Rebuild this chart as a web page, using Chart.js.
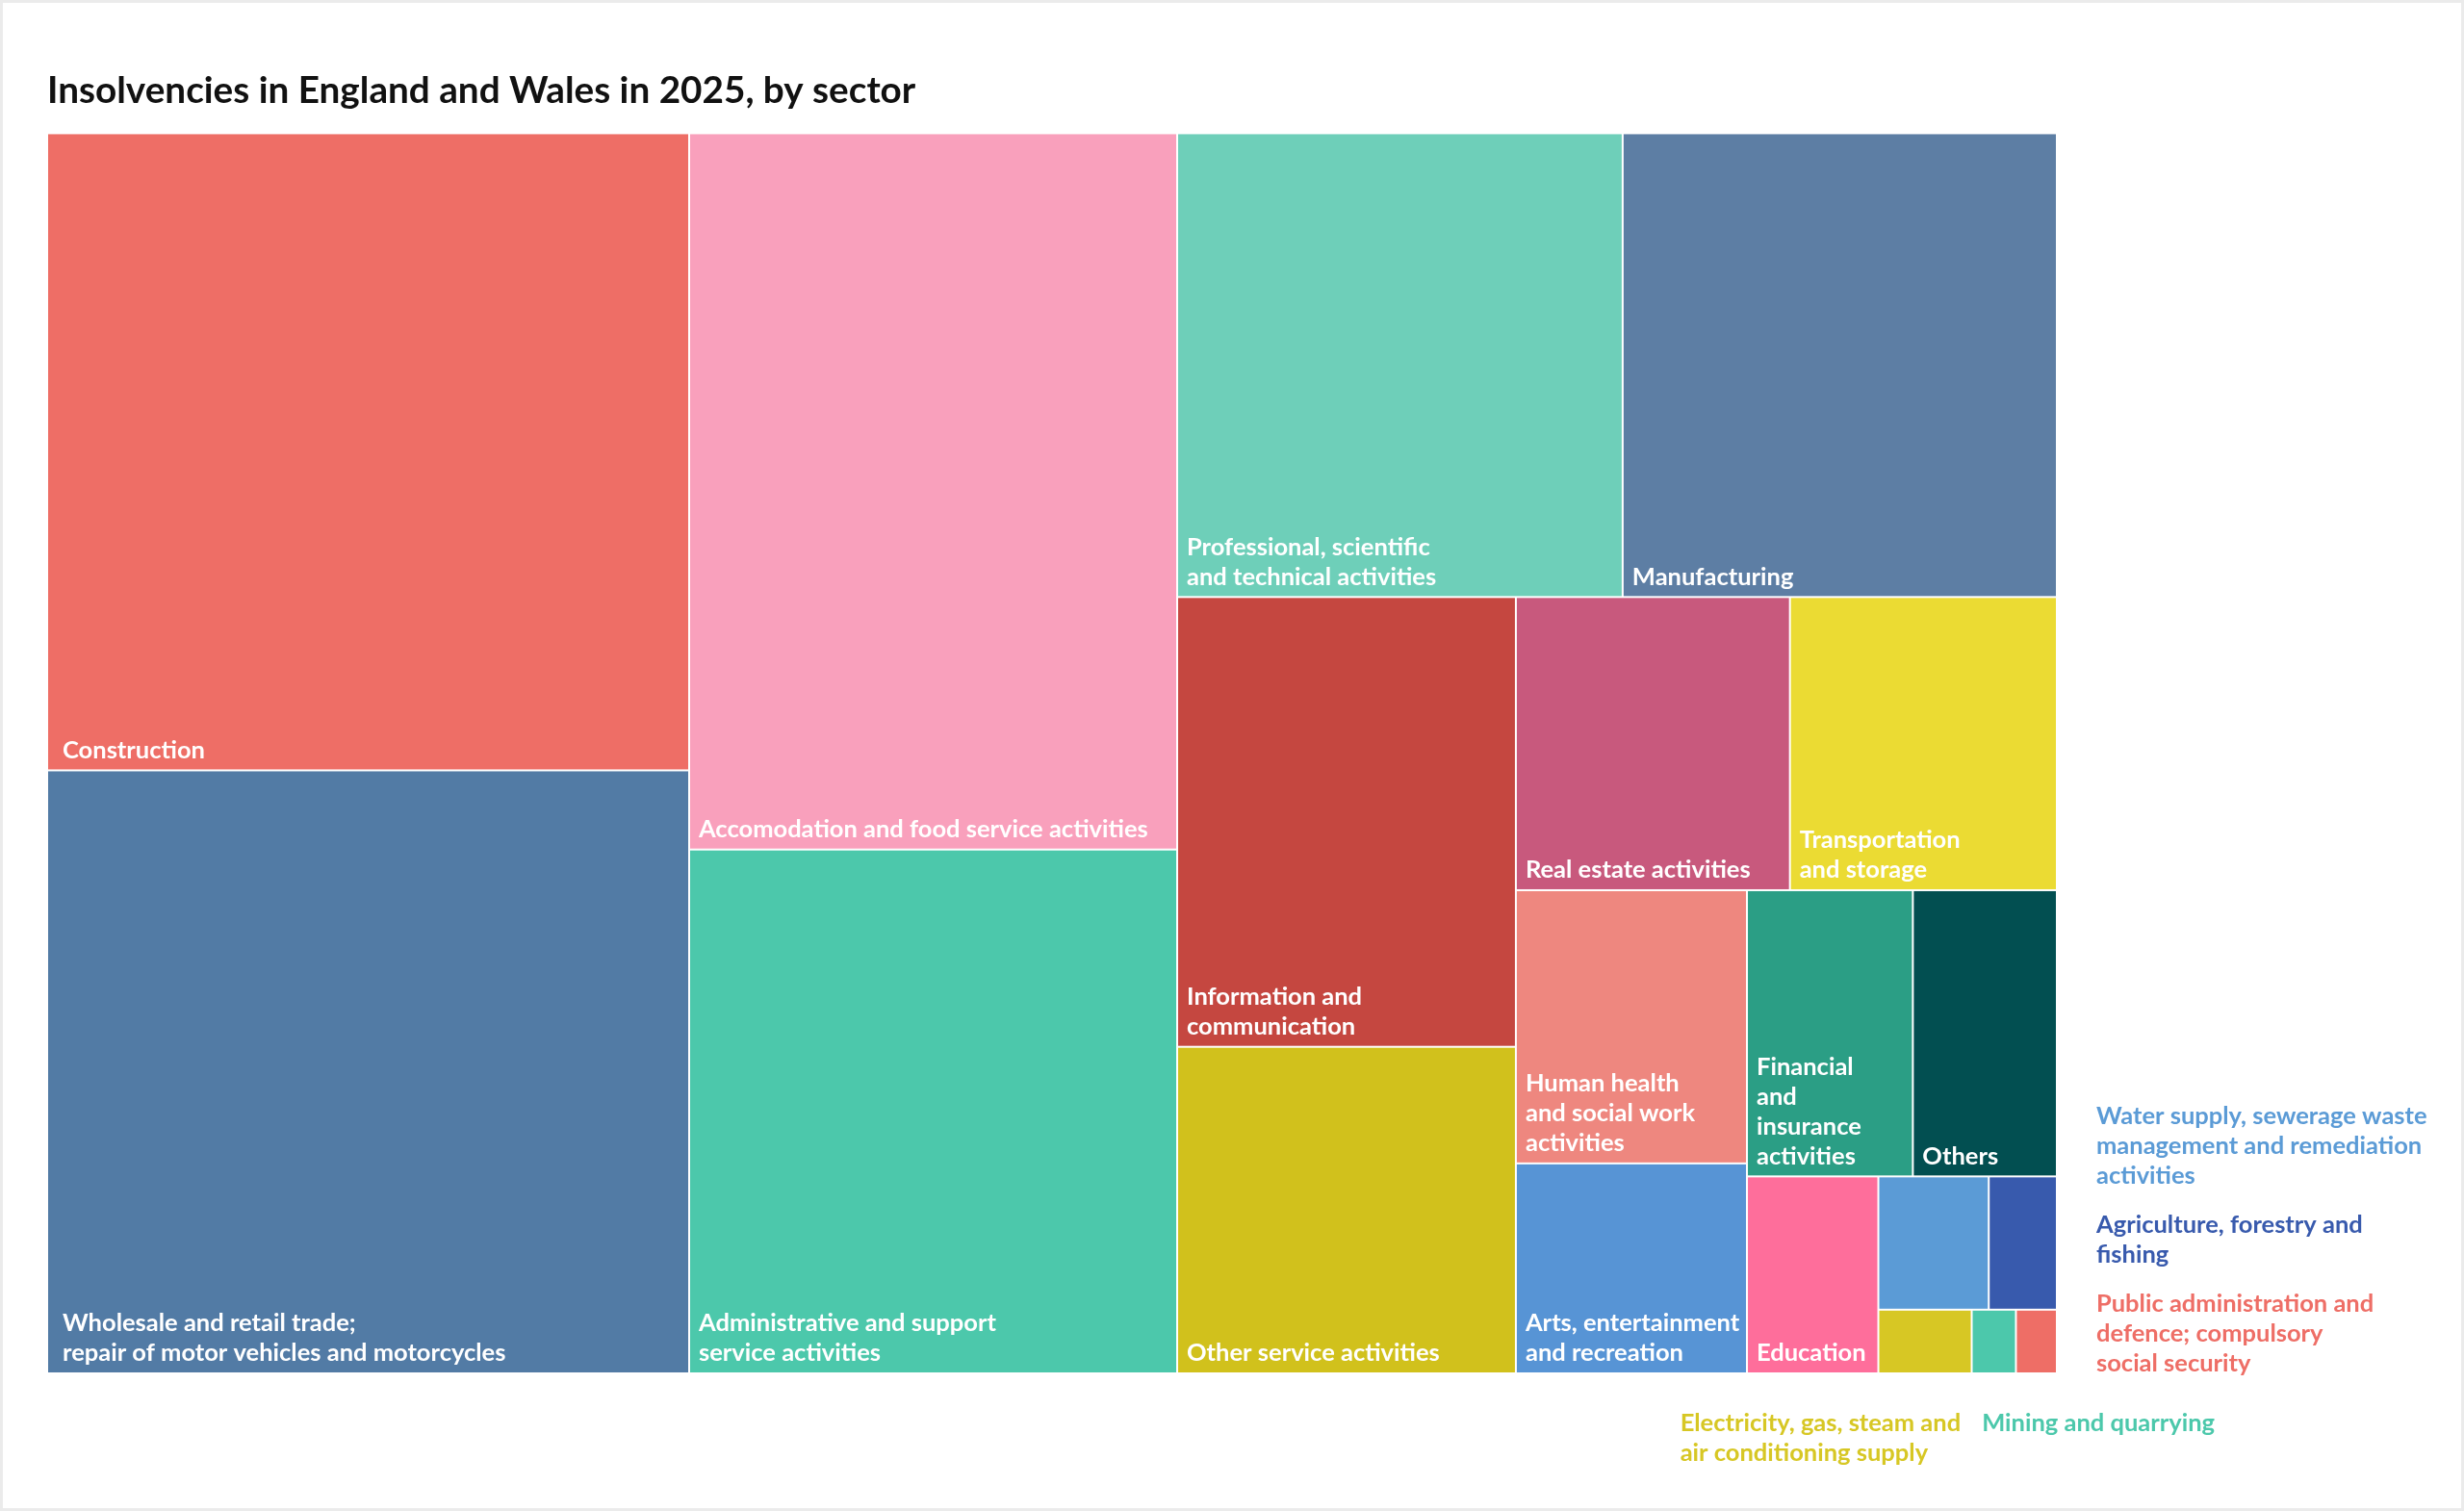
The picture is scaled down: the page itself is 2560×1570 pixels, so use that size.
<!DOCTYPE html>
<html>
<head>
<meta charset="utf-8">
<title>Insolvencies in England and Wales in 2025, by sector</title>
<script src="https://cdn.jsdelivr.net/npm/chart.js@4.4.1/dist/chart.umd.min.js"></script>
<style>
  html, body { margin: 0; padding: 0; background: #fff; }
  #wrap { width: 2560px; height: 1570px; box-sizing: border-box; border: 3px solid #ebebeb; }
  canvas { display: block; }
</style>
</head>
<body>
<div id="wrap"><canvas id="chart"></canvas></div>
<script>
// Sectors, sorted largest first (treemap order)
const sectors = [
  'Construction',
  'Wholesale and retail trade; repair of motor vehicles and motorcycles',
  'Accomodation and food service activities',
  'Administrative and support service activities',
  'Professional, scientific and technical activities',
  'Manufacturing',
  'Information and communication',
  'Other service activities',
  'Real estate activities',
  'Transportation and storage',
  'Human health and social work activities',
  'Arts, entertainment and recreation',
  'Financial and insurance activities',
  'Others',
  'Education',
  'Water supply, sewerage waste management and remediation activities',
  'Agriculture, forestry and fishing',
  'Electricity, gas, steam and air conditioning supply',
  'Mining and quarrying',
  'Public administration and defence; compulsory social security'
];

// Number of insolvencies
const insolvencies = [3920, 3710, 3350, 2450, 1980, 1930, 1460, 1060, 770, 750,
                      605, 465, 455, 395, 248, 141, 87, 57, 27, 25];

// Label text as shown, with its line breaks
const cellLabels = [
  'Construction',
  'Wholesale and retail trade;\nrepair of motor vehicles and motorcycles',
  'Accomodation and food service activities',
  'Administrative and support\nservice activities',
  'Professional, scientific\nand technical activities',
  'Manufacturing',
  'Information and\ncommunication',
  'Other service activities',
  'Real estate activities',
  'Transportation\nand storage',
  'Human health\nand social work\nactivities',
  'Arts, entertainment\nand recreation',
  'Financial\nand\ninsurance\nactivities',
  'Others',
  'Education',
  'Water supply, sewerage waste\nmanagement and remediation\nactivities',
  'Agriculture, forestry and\nfishing',
  'Electricity, gas, steam and\nair conditioning supply',
  'Mining and quarrying',
  'Public administration and\ndefence; compulsory\nsocial security'
];

const colors = [
  '#ee6e66', '#527ba5', '#f9a0bc', '#4cc8ab', '#6ecfb9',
  '#5d7ea4', '#c54740', '#d1c11c', '#c8597d', '#ebdb33',
  '#ee877f', '#5794d5', '#2b9e85', '#024f51', '#fe6e9b',
  '#5b9bd6', '#385aad', '#d7c724', '#4cc8ab', '#ee6e66'
];

const FONT = 'Lato, "Noto Sans", sans-serif';

// classic squarified treemap (same steps as d3.treemapSquarify with ratio 1)
function squarify(values, x0, y0, x1, y1) {
  const rects = [];
  const n = values.length;
  let value = values.reduce((a, b) => a + b, 0);
  let i0 = 0, i1 = 0;
  while (i0 < n) {
    const dx = x1 - x0, dy = y1 - y0;
    let sum = values[i1++], minV = sum, maxV = sum;
    const alpha = Math.max(dy / dx, dx / dy) / value;
    let beta = sum * sum * alpha;
    let minRatio = Math.max(maxV / beta, beta / minV);
    for (; i1 < n; ++i1) {
      const v = values[i1];
      sum += v;
      if (v < minV) minV = v;
      if (v > maxV) maxV = v;
      beta = sum * sum * alpha;
      const r = Math.max(maxV / beta, beta / minV);
      if (r > minRatio) { sum -= v; break; }
      minRatio = r;
    }
    if (dx < dy) {
      // row across the top
      const h = i1 < n ? dy * sum / value : dy;
      let x = x0;
      for (let i = i0; i < i1; i++) {
        const w = dx * values[i] / sum;
        rects[i] = [x, y0, x + w, y0 + h];
        x += w;
      }
      y0 += h;
    } else {
      // column down the left
      const w = i1 < n ? dx * sum / value : dx;
      let y = y0;
      for (let i = i0; i < i1; i++) {
        const h = dy * values[i] / sum;
        rects[i] = [x0, y, x0 + w, y + h];
        y += h;
      }
      x0 += w;
    }
    value -= sum;
    i0 = i1;
  }
  return rects;
}

const treemapPlugin = {
  id: 'treemap',
  afterDatasetsDraw(chart) {
    const { ctx, chartArea, scales } = chart;
    const W = chartArea.width, H = chartArea.height;
    // layout in area units, then mapped through the chart's scales (0..1)
    const cells = squarify(insolvencies, 0, 0, W, H).map(r => ({
      x0: scales.x.getPixelForValue(r[0] / W),
      x1: scales.x.getPixelForValue(r[2] / W),
      y0: scales.y.getPixelForValue(r[1] / H),
      y1: scales.y.getPixelForValue(r[3] / H)
    }));

    const gap = 1;
    const fontSize = 25.5, lineH = 31, padX = 10, padBottom = 21;
    ctx.save();
    ctx.font = 'bold ' + fontSize + 'px ' + FONT;
    ctx.textBaseline = 'middle';
    ctx.textAlign = 'left';

    const outsideRight = [], outsideBottom = [];
    cells.forEach((c, i) => {
      ctx.fillStyle = colors[i];
      ctx.fillRect(c.x0 + gap, c.y0 + gap, c.x1 - c.x0 - 2 * gap, c.y1 - c.y0 - 2 * gap);

      const lines = cellLabels[i].split('\n');
      const textW = Math.max(...lines.map(l => ctx.measureText(l).width));
      const fits = textW + padX + 3 <= c.x1 - c.x0 && lines.length * lineH + 10 <= c.y1 - c.y0;
      const atLeft = Math.abs(c.x0 - chartArea.left) < 2;
      const atRight = Math.abs(c.x1 - chartArea.right) < 2;
      const atBottom = Math.abs(c.y1 - chartArea.bottom) < 2;
      if (fits) {
        ctx.fillStyle = '#ffffff';
        const x = c.x0 + padX + (atLeft ? 6 : 0);
        lines.forEach((l, k) => {
          const y = c.y1 - padBottom - (lines.length - 1 - k) * lineH;
          ctx.fillText(l, x, y);
        });
      } else if (atBottom && !atRight) {
        outsideBottom.push({ i, lines, w: textW, cx: (c.x0 + c.x1) / 2 });
      } else {
        outsideRight.push({ i, lines, cy: (c.y0 + c.y1) / 2 });
      }
    });

    // labels to the right, stacked upwards from the bottom of the area
    const rightGap = 20;
    outsideRight.sort((a, b) => (b.cy - a.cy) || (b.i - a.i));
    let limit = chartArea.bottom + 5;
    outsideRight.forEach(o => {
      const h = o.lines.length * lineH;
      let top = o.cy - h / 2;
      if (top + h > limit) top = limit - h;
      limit = top - rightGap;
      ctx.fillStyle = colors[o.i];
      o.lines.forEach((l, k) => ctx.fillText(l, chartArea.right + 41, top + lineH / 2 + k * lineH));
    });

    // labels below the area, centred on their cell and pushed apart
    const bottomGap = 22;
    outsideBottom.sort((a, b) => a.cx - b.cx);
    outsideBottom.forEach(o => { o.left = o.cx - o.w / 2; });
    for (let k = 1; k < outsideBottom.length; k++) {
      const a = outsideBottom[k - 1], b = outsideBottom[k];
      const overlap = a.left + a.w + bottomGap - b.left;
      if (overlap > 0) {
        a.left -= overlap / 2;
        b.left += overlap / 2;
      }
    }
    outsideBottom.forEach(o => {
      ctx.fillStyle = colors[o.i];
      o.lines.forEach((l, k) => ctx.fillText(l, o.left, chartArea.bottom + 52 + k * lineH));
    });
    ctx.restore();
  }
};

new Chart(document.getElementById('chart'), {
  type: 'scatter',
  data: { datasets: [] },
  options: {
    responsive: true,
    maintainAspectRatio: false,
    animation: false,
    layout: { padding: { top: 68, left: 46, right: 420, bottom: 140 } },
    scales: {
      x: { display: false, min: 0, max: 1 },
      y: { display: false, min: 0, max: 1, reverse: true }
    },
    plugins: {
      legend: { display: false },
      tooltip: { enabled: false },
      title: {
        display: true,
        text: 'Insolvencies in England and Wales in 2025, by sector',
        align: 'start',
        color: '#111111',
        font: { family: FONT, size: 38.7, weight: 'bold' },
        padding: { top: 0, bottom: 21 }
      }
    }
  },
  plugins: [treemapPlugin]
});
</script>
</body>
</html>
